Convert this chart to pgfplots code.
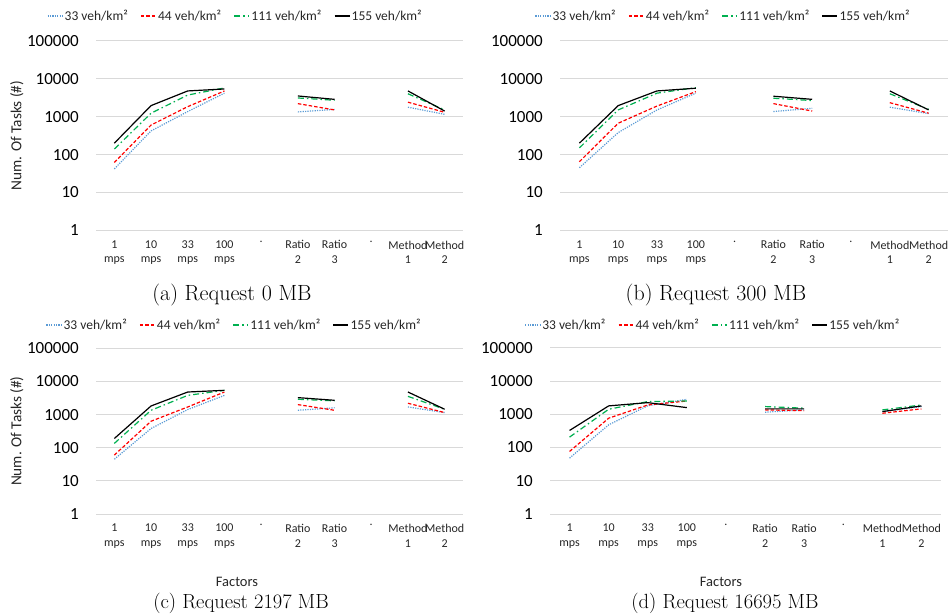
\documentclass[border=0pt]{standalone}
\usepackage{fontspec}
\usepackage{pgfplots}
\pgfplotsset{compat=1.18}
\usepackage{pgfplotstable}
\newfontfamily\carl{Carlito}
\definecolor{cblue}{RGB}{91,155,213}
\definecolor{cred}{RGB}{255,0,0}
\definecolor{cgreen}{RGB}{0,176,80}
\definecolor{gridgray}{RGB}{217,217,217}

% (a) Request 0 MB
\pgfplotstableread{
x s33 s44 s111 s155
0 42 62 140 200
1 420 600 1230 1950
2 1360 1830 3700 4750
3 4150 4750 5700 5350
4 nan nan nan nan
5 1330 2200 3100 3500
6 1550 1500 2700 2850
7 nan nan nan nan
8 1770 2400 4000 4750
9 1150 1300 1500 1400
}\dataA
% (b) Request 300 MB
\pgfplotstableread{
x s33 s44 s111 s155
0 45 65 150 200
1 380 670 1500 1950
2 1500 1900 4150 4750
3 4150 4550 5800 5600
4 nan nan nan nan
5 1360 2200 3050 3450
6 1660 1400 2650 2850
7 nan nan nan nan
8 1770 2330 4000 4750
9 1200 1230 1560 1500
}\dataB
% (c) Request 2197 MB
\pgfplotstableread{
x s33 s44 s111 s155
0 45 60 135 190
1 380 630 1350 1820
2 1420 1700 3800 4800
3 3800 4800 5400 5400
4 nan nan nan nan
5 1350 2000 2900 3250
6 1600 1350 2600 2700
7 nan nan nan nan
8 1700 2200 3550 4800
9 1150 1150 1450 1450
}\dataC
% (d) Request 16695 MB
\pgfplotstableread{
x s33 s44 s111 s155
0 48 76 205 325
1 480 760 1410 1780
2 1800 1900 2400 2230
3 2800 2500 2500 1580
4 nan nan nan nan
5 1150 1350 1700 1450
6 1350 1280 1520 1450
7 nan nan nan nan
8 1200 1070 1350 1200
9 1700 1450 1900 1780
}\dataD

\tikzset{
 s33/.style={cblue, line width=1.2pt, dash pattern=on 1.2pt off 1.2pt},
 s44/.style={cred, line width=1.2pt, dash pattern=on 3.5pt off 2pt},
 s111/.style={cgreen, line width=1.2pt, dash pattern=on 6pt off 3pt on 1.5pt off 3pt},
 s155/.style={black, line width=1.2pt},
}

\pgfplotsset{
  scale only axis,
  xmin=-0.5, xmax=9.5, ymin=1, ymax=100000,
  xtick={0,1,2,3,4,5,6,7,8,9},
  xticklabels={{1\\mps},{10\\mps},{33\\mps},{100\\mps},{.},{Ratio\\2},{Ratio\\3},{.},{Method\\1},{Method\\2}},
  ymajorgrids, grid style={gridgray, line width=0.8pt},
  axis line style={draw=none},
  major tick length=0pt,
  yticklabel style={font=\carl\fontsize{17}{17}\selectfont, text=black, inner sep=0pt, xshift=-17pt},
  xticklabel style={font=\carl\fontsize{12}{14.5}\selectfont, align=center, inner sep=0pt, yshift=-10pt, text=black!85},
  unbounded coords=jump,
  legend columns=4,
  legend style={draw=none, fill=none, font=\carl\fontsize{13.5}{15}\selectfont, text=black!85, anchor=center,
    /tikz/every even column/.append style={column sep=11pt}, nodes={inner xsep=1.5pt}},
  legend image code/.code={\draw[#1] (0pt,0pt) -- (15pt,0pt);},
  ylabel style={font=\carl\fontsize{15.3}{15.3}\selectfont, text=black!85},
}

\newcommand{\plotall}[1]{%
  \addplot[s33] table[x=x,y=s33]{#1};
  \addplot[s44] table[x=x,y=s44]{#1};
  \addplot[s111] table[x=x,y=s111]{#1};
  \addplot[s155] table[x=x,y=s155]{#1};
  \legend{33 veh/km²,44 veh/km²,111 veh/km²,155 veh/km²}
}

\begin{document}
\begin{tikzpicture}
\useasboundingbox (0,0) rectangle (949pt,-615pt);

\begin{axis}[ymode=log, log basis y=10,
  ytick={1,10,100,1000,10000,100000},
  yticklabels={1,10,100,1000,10000,100000},
  at={(96pt,-230.5pt)}, anchor=south west, width=367pt, height=189.8pt,
  ylabel={Num. Of Tasks (\#)},
  legend style={at={(0.379,1.130)}}]
\plotall{\dataA}
\end{axis}

\begin{axis}[ymode=log, log basis y=10,
  ytick={1,10,100,1000,10000,100000},
  yticklabels={1,10,100,1000,10000,100000},
  at={(560pt,-230.5pt)}, anchor=south west, width=388pt, height=189.8pt,
  legend style={at={(0.42,1.130)}}]
\plotall{\dataB}
\end{axis}

\begin{axis}[ymode=log, log basis y=10,
  ytick={1,10,100,1000,10000,100000},
  yticklabels={1,10,100,1000,10000,100000},
  at={(96pt,-514pt)}, anchor=south west, width=367pt, height=165.7pt,
  ylabel={Num. Of Tasks (\#)},
  legend style={at={(0.376,1.141)}}]
\plotall{\dataC}
\end{axis}

\begin{axis}[ymode=log, log basis y=10,
  ytick={1,10,100,1000,10000,100000},
  yticklabels={1,10,100,1000,10000,100000},
  at={(550pt,-514pt)}, anchor=south west, width=391pt, height=166.3pt,
  legend style={at={(0.416,1.137)}}]
\plotall{\dataD}
\end{axis}

\node[font=\carl\fontsize{14.5}{14.5}\selectfont, text=black!85, inner sep=1pt] at (237pt,-582pt) {Factors};
\node[font=\carl\fontsize{14.5}{14.5}\selectfont, text=black!85, inner sep=1pt] at (721pt,-582pt) {Factors};

\node[font=\fontsize{22}{26}\selectfont] at (232pt,-295pt) {(a) Request 0 MB};
\node[font=\fontsize{22}{26}\selectfont] at (716pt,-295pt) {(b) Request 300 MB};
\node[font=\fontsize{20.5}{24}\selectfont, inner sep=1pt] at (241pt,-603pt) {(c) Request 2197 MB};
\node[font=\fontsize{20.5}{24}\selectfont, inner sep=1pt] at (725pt,-603pt) {(d) Request 16695 MB};
\end{tikzpicture}
\end{document}
